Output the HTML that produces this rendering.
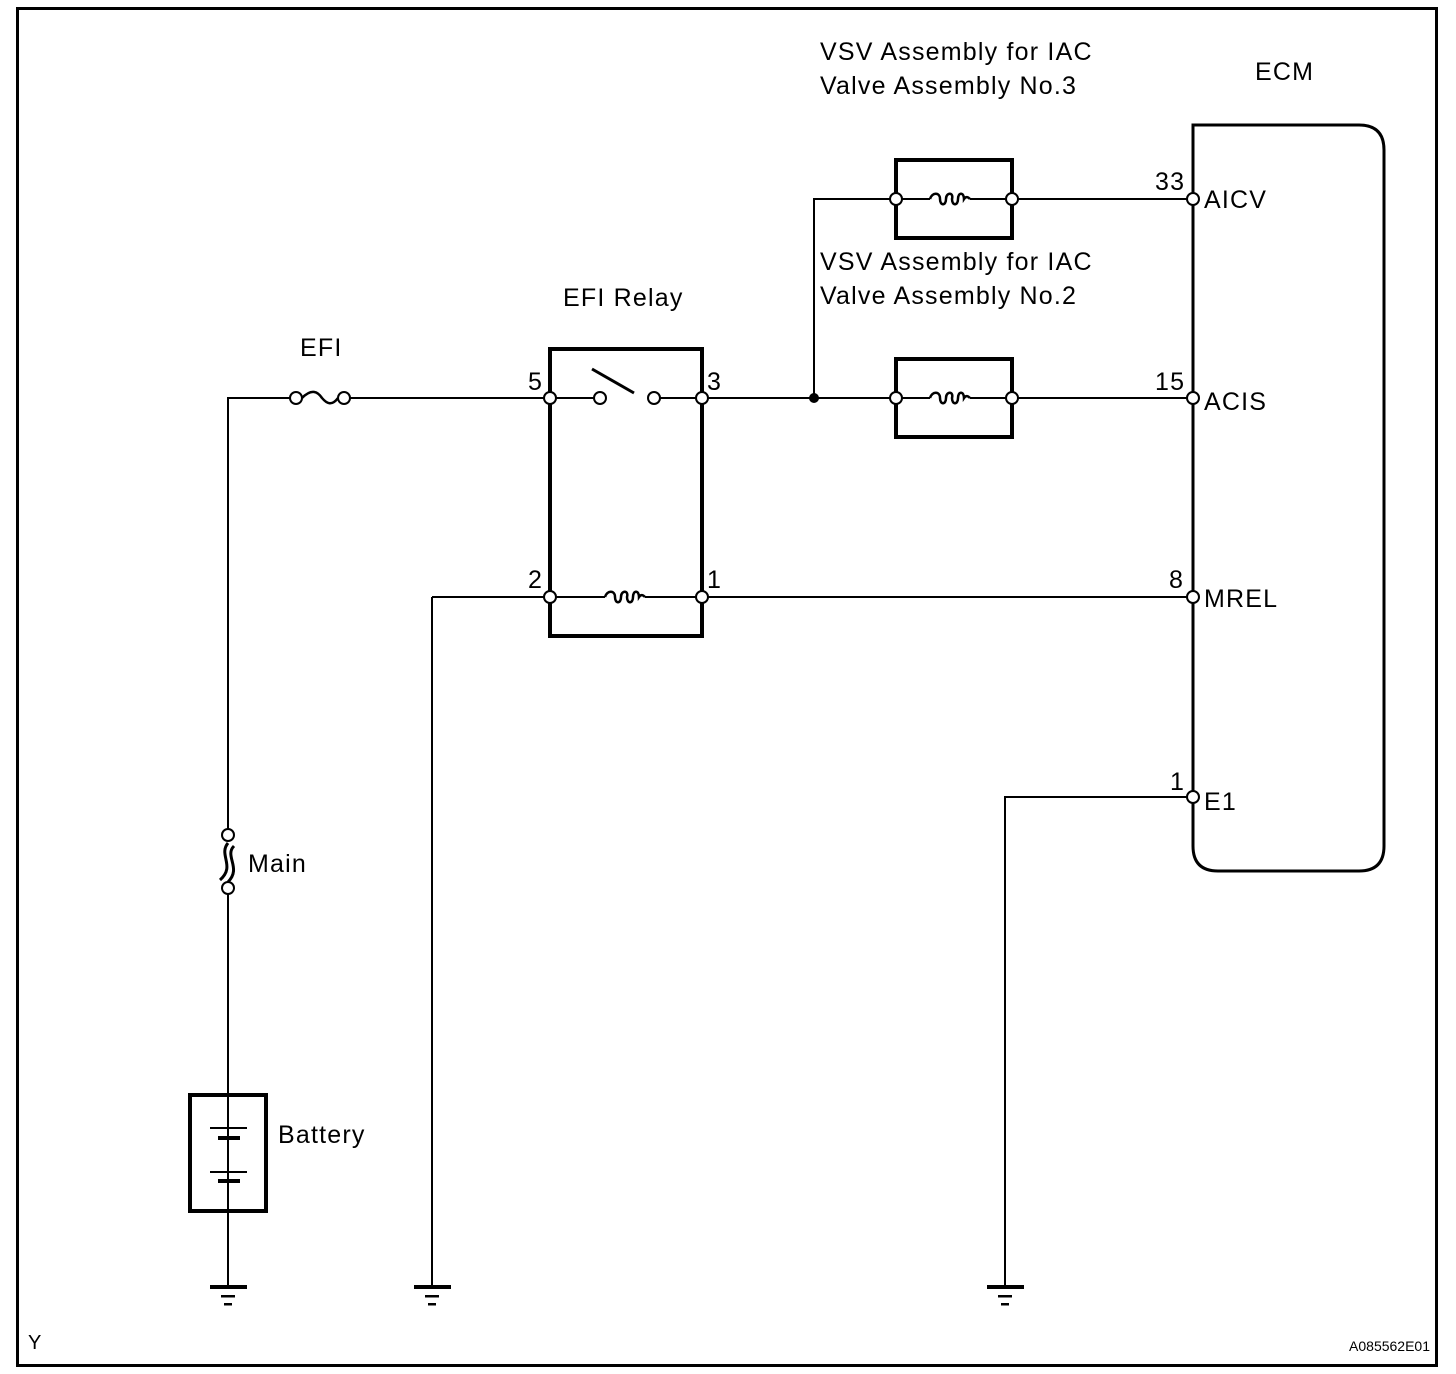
<!DOCTYPE html>
<html><head><meta charset="utf-8"><style>
html,body{margin:0;padding:0;background:#fff}
svg{display:block}
text{font-family:"Liberation Sans",Arial,sans-serif;fill:#000}
</style></head><body>
<svg width="1456" height="1374" viewBox="0 0 1456 1374" xmlns="http://www.w3.org/2000/svg">
<defs>
<g id="coil"><path d="M-20,0 C-18,-7 -10,-7 -10,0 C-10,7 -4,7 -4,0 C-4,-7 4,-7 2,0 C2,7 8,7 8,0 C8,-7 14,-7 14,0 C16,-3 18,-2 20,0" fill="none" stroke="#000" stroke-width="2.5"/></g>
<g id="gnd"><rect x="-18" y="-2" width="37" height="4"/><rect x="-7" y="8" width="14" height="2.5"/><rect x="-4" y="16" width="8" height="2.5"/></g>
</defs>
<rect x="17.5" y="8.5" width="1419" height="1357" fill="none" stroke="#000" stroke-width="3"/>
<g stroke="#000" stroke-width="2" fill="none">
<polyline points="228,1286 228,888"/>
<polyline points="228,835 228,398 290,398"/>
<polyline points="350,398 550,398"/>
<path d="M302,398 C312,388 318,392 322,398 C327,404 332,406 338,398" stroke-width="2.5"/>
<line x1="550" y1="398" x2="594" y2="398"/>
<line x1="660" y1="398" x2="702" y2="398"/>
<line x1="592" y1="369" x2="634" y2="393" stroke-width="3"/>
<line x1="432" y1="1286" x2="432" y2="597"/>
<line x1="432" y1="597" x2="605" y2="597"/>
<line x1="645" y1="597" x2="1193" y2="597"/>
<line x1="702" y1="398" x2="930" y2="398"/>
<line x1="970" y1="398" x2="1193" y2="398"/>
<polyline points="814,398 814,199 930,199"/>
<line x1="970" y1="199" x2="1193" y2="199"/>
<polyline points="1005,1286 1005,797 1193,797"/>
</g>
<path d="M228,843 C218,855 236,866 220,880 M234,846 C224,856 242,868 228,882" fill="none" stroke="#000" stroke-width="3"/>
<g fill="none" stroke="#000">
<rect x="190" y="1095" width="76" height="116" stroke-width="4"/>
<line x1="228" y1="1095" x2="228" y2="1128" stroke-width="2"/>
<line x1="210" y1="1128" x2="247" y2="1128" stroke-width="2"/>
<line x1="218" y1="1138" x2="240" y2="1138" stroke-width="4"/>
<line x1="228" y1="1142" x2="228" y2="1170" stroke-width="1.5" stroke-dasharray="6,4"/>
<line x1="210" y1="1172" x2="247" y2="1172" stroke-width="2"/>
<line x1="218" y1="1181" x2="240" y2="1181" stroke-width="4"/>
<line x1="228" y1="1183" x2="228" y2="1286" stroke-width="2"/>
<rect x="550" y="349" width="152" height="287" stroke-width="4"/>
<rect x="896" y="160" width="116" height="78" stroke-width="4"/>
<rect x="896" y="359" width="116" height="78" stroke-width="4"/>
<path d="M1193,125 H1359 Q1384,125 1384,150 V846 Q1384,871 1359,871 H1218 Q1193,871 1193,846 Z" stroke-width="3"/>
</g>
<use href="#coil" x="625" y="597"/>
<use href="#coil" x="950" y="199"/>
<use href="#coil" x="950" y="398"/>
<use href="#gnd" x="228" y="1287"/>
<use href="#gnd" x="432" y="1287"/>
<use href="#gnd" x="1005" y="1287"/>
<circle cx="814" cy="398" r="5" fill="#000"/>
<g fill="#fff" stroke="#000" stroke-width="2">
<circle cx="296" cy="398" r="6"/><circle cx="344" cy="398" r="6"/>
<circle cx="228" cy="835" r="6"/><circle cx="228" cy="888" r="6"/>
<circle cx="550" cy="398" r="6"/><circle cx="600" cy="398" r="6"/><circle cx="654" cy="398" r="6"/><circle cx="702" cy="398" r="6"/>
<circle cx="550" cy="597" r="6"/><circle cx="702" cy="597" r="6"/>
<circle cx="896" cy="199" r="6"/><circle cx="1012" cy="199" r="6"/>
<circle cx="896" cy="398" r="6"/><circle cx="1012" cy="398" r="6"/>
<circle cx="1193" cy="199" r="6"/><circle cx="1193" cy="398" r="6"/><circle cx="1193" cy="597" r="6"/><circle cx="1193" cy="797" r="6"/>
</g>
<g font-size="25" letter-spacing="1.2">
<text x="300" y="356">EFI</text>
<text x="563" y="306">EFI Relay</text>
<text x="528" y="390">5</text><text x="707" y="390">3</text>
<text x="528" y="588">2</text><text x="707" y="588">1</text>
<text x="248" y="872">Main</text>
<text x="278" y="1143">Battery</text>
<text x="820" y="60">VSV Assembly for IAC</text>
<text x="820" y="94">Valve Assembly No.3</text>
<text x="820" y="270">VSV Assembly for IAC</text>
<text x="820" y="304">Valve Assembly No.2</text>
<text x="1255" y="80">ECM</text>
<text x="1155" y="190">33</text><text x="1204" y="208">AICV</text>
<text x="1155" y="390">15</text><text x="1204" y="410">ACIS</text>
<text x="1169" y="588">8</text><text x="1204" y="607">MREL</text>
<text x="1170" y="790">1</text><text x="1204" y="810">E1</text>
<text x="28" y="1349" font-size="20" letter-spacing="0">Y</text>
</g>
<text x="1430" y="1351" font-size="14" text-anchor="end">A085562E01</text>
</svg>
</body></html>
